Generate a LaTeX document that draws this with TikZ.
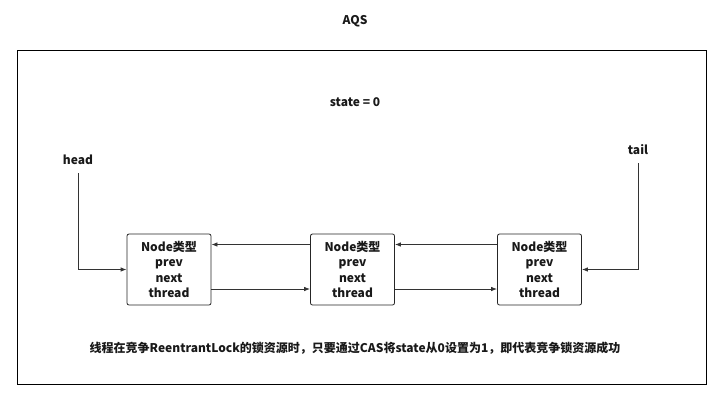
\documentclass[tikz,border=0pt]{standalone}
\usepackage{fontspec}
\setmainfont{Noto Sans CJK SC}
\usetikzlibrary{arrows.meta}

\begin{document}
\begin{tikzpicture}[x=1pt,y=-1pt,
        every node/.style={font=\bfseries\fontsize{12}{15.3}\selectfont, text=black!90, inner sep=0pt},
        qnode/.style={draw=black!85, rounded corners=2pt, minimum width=84pt, minimum height=71pt, align=center, line width=0.8pt},
        link/.style={draw=black!80, line width=0.8pt, -{Latex[length=6pt,width=4.5pt]}}]
    \useasboundingbox (0,0) rectangle (725,405);
    \draw[line width=1pt] (17,50) rectangle (706,384);
    \node (aqs) at (355,21) {AQS};
    \node (state) at (355,102) {state = 0};
    % queue nodes
    \node[qnode] (n1) at (169,269.5) {Node类型\\prev\\next\\thread};
    \node[qnode] (n2) at (352.5,269.5) {Node类型\\prev\\next\\thread};
    \node[qnode] (n3) at (539.5,269.5) {Node类型\\prev\\next\\thread};
    \draw[link] ([yshift=25pt]n2.west) -- ([yshift=25pt]n1.east);
    \draw[link] ([yshift=25pt]n3.west) -- ([yshift=25pt]n2.east);
    \draw[link] ([yshift=-19.5pt]n1.east) -- ([yshift=-19.5pt]n2.west);
    \draw[link] ([yshift=-19.5pt]n2.east) -- ([yshift=-19.5pt]n3.west);
    % head and tail
    \node (head) at (78,160) {head};
    \node (tail) at (638,150) {tail};
    \draw[link] ([yshift=-8pt]head.south) |- (n1.west);
    \draw[link] ([yshift=-8pt]tail.south) |- (n3.east);
    \node (note) at (355,348) {线程在竞争ReentrantLock的锁资源时，只要通过CAS将state从0设置为1，即代表竞争锁资源成功};
\end{tikzpicture}
\end{document}
